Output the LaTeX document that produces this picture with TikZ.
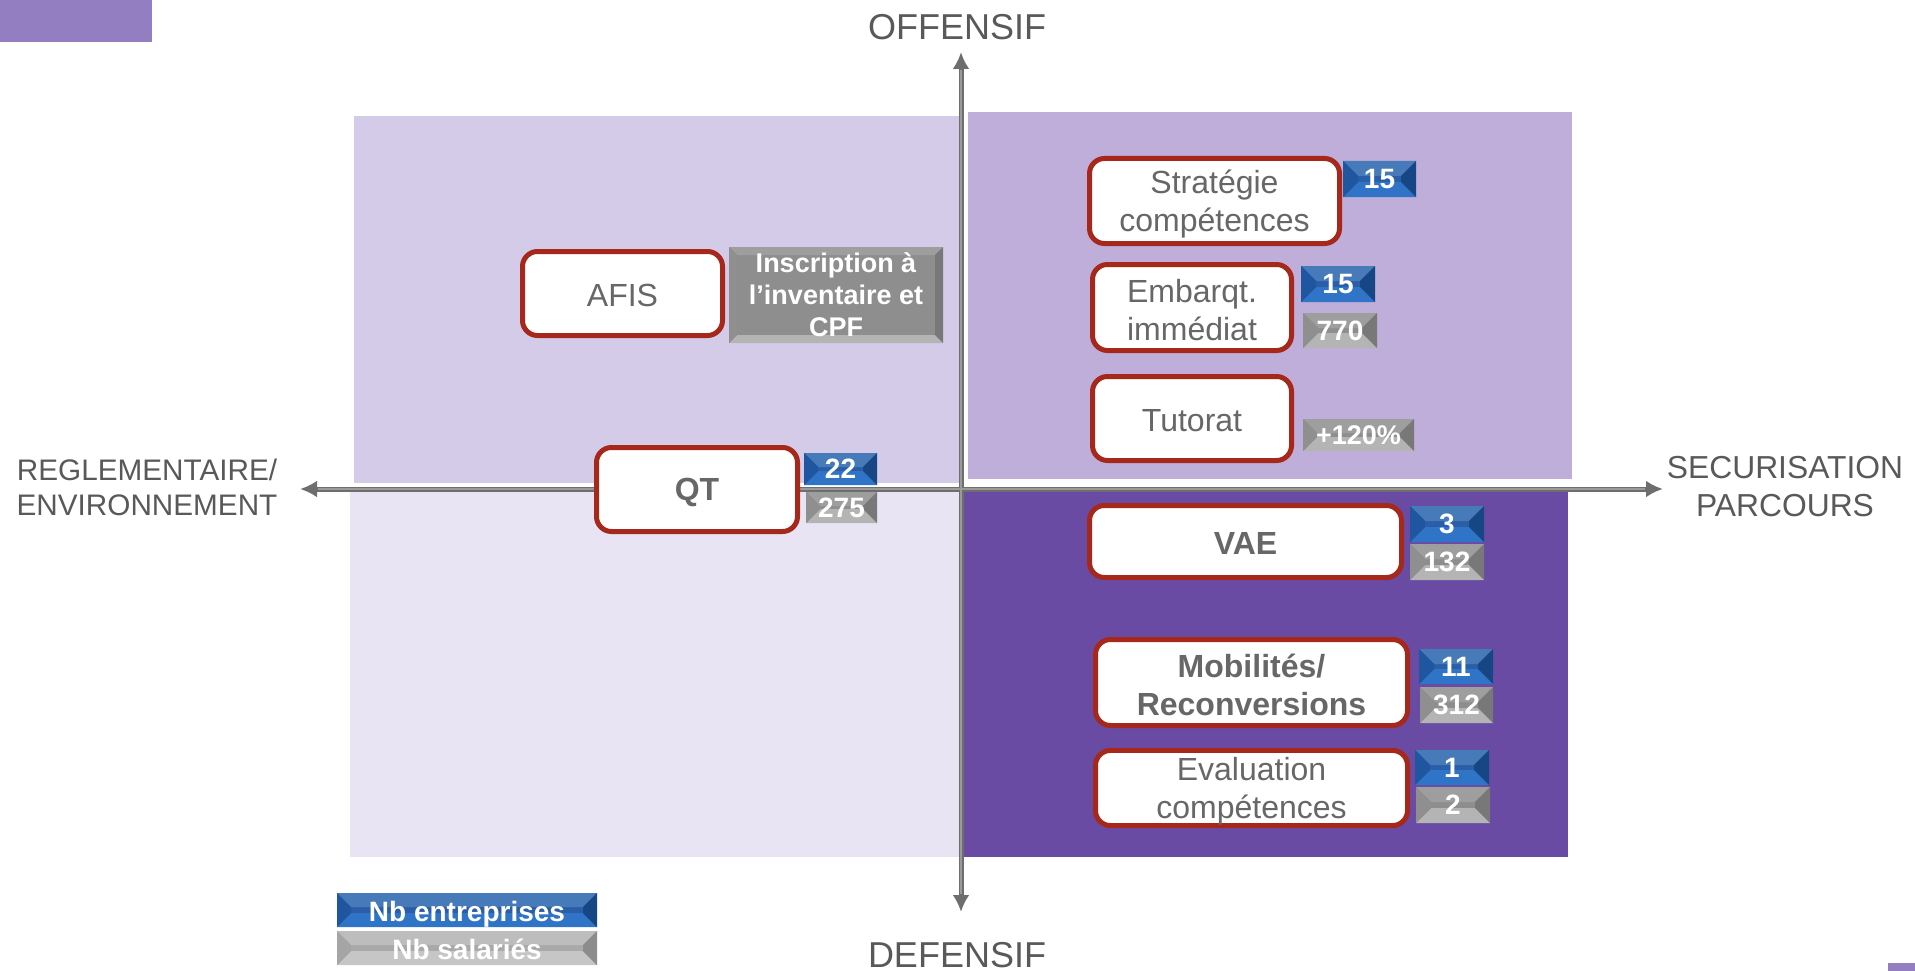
\documentclass[tikz,border=0pt]{standalone}
\usepackage{fontspec}
\setmainfont{Liberation Sans}
\usetikzlibrary{arrows.meta,calc}

\definecolor{tabPurple}{HTML}{937EC2}
\definecolor{qNW}{HTML}{D3CBE8}
\definecolor{qNE}{HTML}{BEAED9}
\definecolor{qSW}{HTML}{E8E4F3}
\definecolor{qSE}{HTML}{6A4BA4}
\definecolor{axisGrey}{HTML}{6E6E6E}
\definecolor{axisLight}{HTML}{9A9A9A}
\definecolor{labelGrey}{HTML}{595959}
\definecolor{boxText}{HTML}{676767}
\definecolor{boxRed}{HTML}{A5281A}
% facets of the blue bevelled tags
\definecolor{bTop}{HTML}{467AB9}
\definecolor{bMid}{HTML}{2A5EA7}
\definecolor{bBot}{HTML}{2F74C6}
\definecolor{bLeft}{HTML}{2055A0}
\definecolor{bRight}{HTML}{164684}
% facets of the grey bevelled tags
\definecolor{gTop}{HTML}{9E9E9E}
\definecolor{gMid}{HTML}{8E8E8E}
\definecolor{gBot}{HTML}{B4B4B4}
\definecolor{gLeft}{HTML}{8F8F8F}
\definecolor{gRight}{HTML}{787878}
% lighter grey for the legend tag
\definecolor{lTop}{HTML}{BDBDBD}
\definecolor{lMid}{HTML}{A9A9A9}
\definecolor{lBot}{HTML}{C6C6C6}
\definecolor{lLeft}{HTML}{A5A5A5}
\definecolor{lRight}{HTML}{8C8C8C}

% bevel facets: #1 depth, #2 top, #3 middle, #4 bottom, #5 left, #6 right
\newcommand\bevelfaces[6]{%
  \path (path picture bounding box.south west) coordinate (bvSW)
        (path picture bounding box.north east) coordinate (bvNE);
  \coordinate (bvNW) at (bvSW |- bvNE);
  \coordinate (bvSE) at (bvNE |- bvSW);
  \coordinate (bviSW) at ($(bvSW)+(#1,#1)$);
  \coordinate (bviNE) at ($(bvNE)+(-#1,-#1)$);
  \coordinate (bviNW) at (bviSW |- bviNE);
  \coordinate (bviSE) at (bviNE |- bviSW);
  \fill[#3] (bvSW) rectangle (bvNE);
  \fill[#2] (bvNW) -- (bvNE) -- (bviNE) -- (bviNW) -- cycle;
  \fill[#4] (bvSW) -- (bvSE) -- (bviSE) -- (bviSW) -- cycle;
  \fill[#5] (bvNW) -- (bviNW) -- (bviSW) -- (bvSW) -- cycle;
  \fill[#6] (bvNE) -- (bviNE) -- (bviSE) -- (bvSE) -- cycle;
}

% struts that set the text a little below the geometric centre
\newcommand\oneln{\rule[-2pt]{0pt}{30pt}}
\newcommand\twoln{\rule[-2pt]{0pt}{32pt}}

\tikzset{
  axis/.style={draw=axisGrey, line width=5pt,
    {Latex[length=17pt,width=17pt]}-{Latex[length=17pt,width=17pt]}},
  axiscore/.style={draw=axisLight, line width=1.4pt},
  axlabel/.style={text=labelGrey, align=center, inner sep=0pt},
  actbox/.style={draw=boxRed, line width=5pt, fill=white, rounded corners=15pt,
    inner sep=0pt, align=center, text=boxText,
    font=\fontsize{32}{38.5}\selectfont},
  actbold/.style={actbox, font=\fontsize{32}{38.5}\selectfont\bfseries},
  tag/.style={inner sep=0pt, align=center, text=white,
    font=\fontsize{28}{32}\selectfont\bfseries},
  tagblue/.style={tag, path picture={\bevelfaces{#1}{bTop}{bMid}{bBot}{bLeft}{bRight}}},
  taggrey/.style={tag, path picture={\bevelfaces{#1}{gTop}{gMid}{gBot}{gLeft}{gRight}}},
  taglight/.style={tag, path picture={\bevelfaces{#1}{lTop}{lMid}{lBot}{lLeft}{lRight}}},
}

\begin{document}
\begin{tikzpicture}[x=1pt,y=-1pt]
\useasboundingbox (0,0) rectangle (1915,971);

% corner tabs
\fill[tabPurple] (0,0) rectangle (152,42);
\fill[tabPurple] (1888,963) rectangle (1915,971);

% quadrants
\fill[qNW] (354,116) rectangle (961,483);
\fill[qNE] (968,112) rectangle (1572,479);
\fill[qSW] (350,490) rectangle (961,857);
\fill[qSE] (961,490) rectangle (1568,857);

% axes
\coordinate (yTop) at (961,52);
\coordinate (yBot) at (961,912);
\coordinate (xLeft) at (300,489);
\coordinate (xRight) at (1663,489);
\draw[axis] (xLeft) -- (xRight);
\draw[axis] (yTop) -- (yBot);
\draw[axiscore, shorten <=18pt, shorten >=18pt] (xLeft) -- (xRight);
\draw[axiscore, shorten <=18pt, shorten >=18pt] (yTop) -- (yBot);

% axis labels
\node[axlabel, font=\fontsize{36}{40}\selectfont] (offensif) at (957,27) {OFFENSIF};
\node[axlabel, font=\fontsize{36}{40}\selectfont] (defensif) at (957,955) {DEFENSIF};
\node[axlabel, font=\fontsize{29.7}{35}\selectfont] (reglem) at (147,487) {REGLEMENTAIRE/\\ENVIRONNEMENT};
\node[axlabel, font=\fontsize{31.8}{38}\selectfont] (securis) at (1785,487) {SECURISATION\\PARCOURS};

% action boxes
\node[actbox, minimum width=250pt, minimum height=85pt] (strat) at (1214.5,201) {\twoln Stratégie\\\twoln compétences};
\node[actbox, minimum width=199pt, minimum height=86pt] (embarq) at (1192,307.5) {\twoln Embarqt.\\\twoln immédiat};
\node[actbox, minimum width=199pt, minimum height=84pt] (tutorat) at (1192,418.5) {\oneln Tutorat};
\node[actbox, minimum width=200pt, minimum height=84pt] (afis) at (622.5,293.5) {\oneln AFIS};
\node[actbold, minimum width=201pt, minimum height=84pt] (qt) at (697,489.5) {\oneln QT};
\node[actbold, minimum width=312pt, minimum height=72pt] (vae) at (1245.5,541.5) {\oneln VAE};
\node[actbold, minimum width=312pt, minimum height=86pt] (mobil) at (1251.5,682.5) {\twoln Mobilités/\\\twoln Reconversions};
\node[actbox, minimum width=312pt, minimum height=75pt] (evalc) at (1251.5,788) {\twoln Evaluation\\\twoln compétences};

% figures: companies (blue) and employees (grey)
\node[tagblue=15pt, minimum width=73pt, minimum height=36pt] (strat-n) at (1379.5,179) {15};
\node[tagblue=15pt, minimum width=74pt, minimum height=36pt] (embarq-n) at (1338,284) {15};
\node[taggrey=15pt, minimum width=74pt, minimum height=35pt] (embarq-s) at (1340,330.5) {770};
\node[taggrey=14pt, minimum width=111pt, minimum height=32pt, font=\fontsize{27}{30}\selectfont\bfseries] (tutorat-s) at (1358.5,435) {+120\%};
\node[taggrey=8pt, minimum width=214pt, minimum height=96pt, font=\fontsize{27}{32}\selectfont\bfseries] (afis-s) at (836,295) {Inscription à\\l’inventaire et\\CPF};
\node[tagblue=14pt, minimum width=73pt, minimum height=32pt] (qt-n) at (840.5,469) {22};
\node[taggrey=14pt, minimum width=71pt, minimum height=31pt] (qt-s) at (841.5,507.5) {275};
\node[tagblue=15pt, minimum width=74pt, minimum height=36pt] (vae-n) at (1447,524) {3};
\node[taggrey=15pt, minimum width=74pt, minimum height=36pt] (vae-s) at (1447,562) {132};
\node[tagblue=15pt, minimum width=74pt, minimum height=35pt] (mobil-n) at (1456,666.5) {11};
\node[taggrey=15pt, minimum width=73pt, minimum height=36pt] (mobil-s) at (1456.5,705) {312};
\node[tagblue=15pt, minimum width=74pt, minimum height=35pt] (evalc-n) at (1452,767.5) {1};
\node[taggrey=15pt, minimum width=74pt, minimum height=36pt] (evalc-s) at (1453,805) {2};

% legend
\node[tagblue=14pt, minimum width=260pt, minimum height=34pt, text height=22pt, text depth=0pt] (leg-n) at (467,910) {Nb entreprises};
\node[taglight=14pt, minimum width=260pt, minimum height=34pt, text height=22pt, text depth=0pt] (leg-s) at (467,948) {Nb salariés};
\end{tikzpicture}
\end{document}
